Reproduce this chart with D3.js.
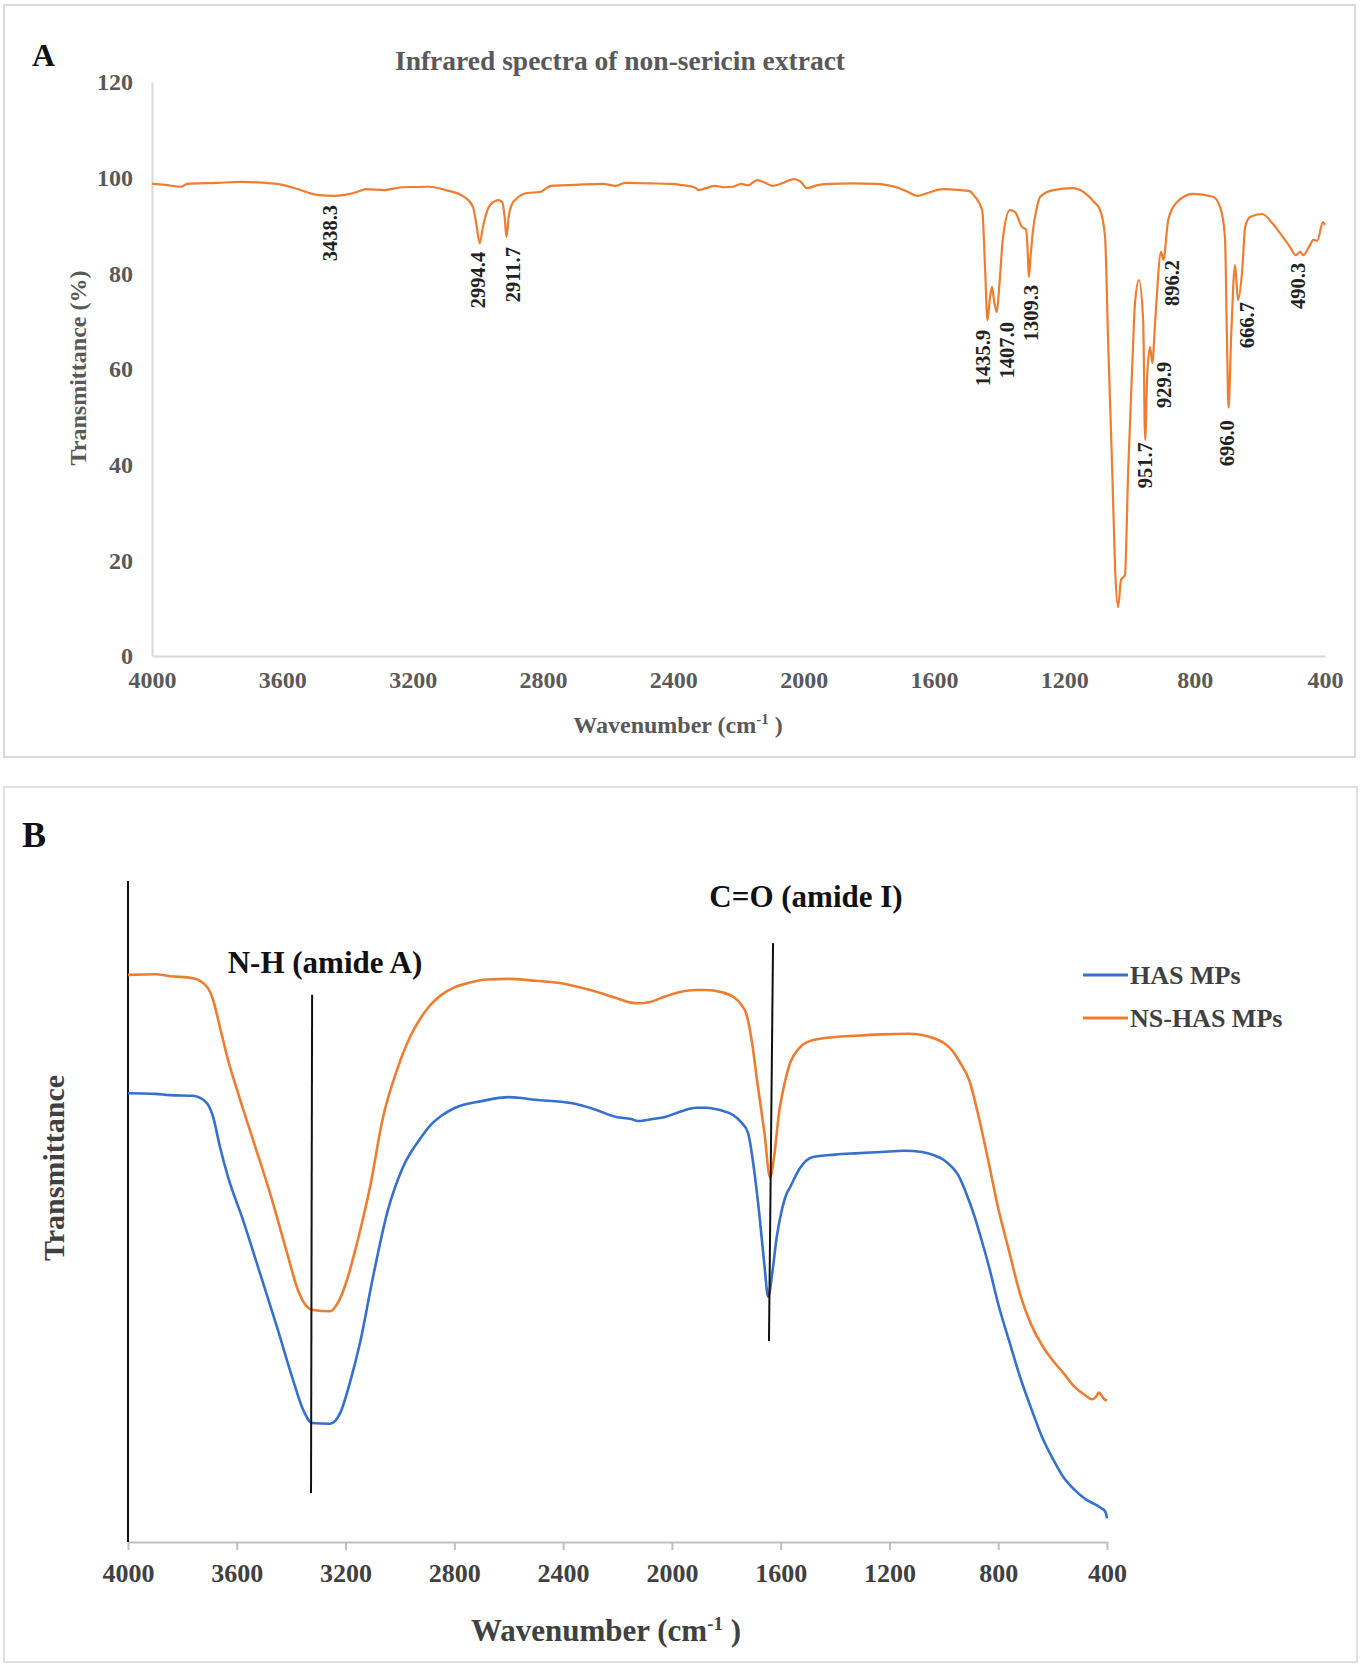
<!DOCTYPE html>
<html><head><meta charset="utf-8">
<script src="https://cdn.jsdelivr.net/npm/d3@7"></script>
<style>
body{margin:0;background:#fff}
svg{display:block}
text{font-family:"Liberation Serif","Times New Roman",serif;font-weight:bold}
</style>
</head><body>
<svg id="c" width="1364" height="1668"></svg>
<script>
// ---------- Panel A data: non-sericin extract ----------
const specA_wn = [4000,3960,3911,3892,3800,3727,3616,3561,3494,3438,3400,3371,3343,3288,3233,3150,3098,3042,3015,3005,2994,2985,2966,2950,2938,2925,2918,2912,2905,2895,2883,2849,2809,2790,2775,2700,2616,2576,2548,2470,2410,2379,2330,2324,2300,2272,2245,2217,2192,2170,2143,2120,2097,2060,2030,2010,1990,1960,1922,1850,1775,1740,1707,1680,1652,1620,1572,1520,1492,1474,1452,1443,1436,1428,1422,1415,1407,1400,1388,1367,1351,1330,1317,1312,1309,1303,1296,1285,1274,1234,1173,1130,1110,1090,1075,1066,1053,1044,1035,1026,1014,1004,992,983,971,958,952,946,937,930,921,903,896,881,854,805,744,722,707,701,696,688,676,667,654,645,630,593,562,538,507,490,476,467,446,436,424,406,400];
const specA_T  = [98.7,98.5,98.1,98.7,98.9,99.1,98.7,97.8,96.4,96.2,96.5,97.0,97.6,97.4,98.0,98.1,97.4,96.0,93.9,90.5,86.3,89.5,93.9,95.0,95.3,94.9,92.0,87.6,92.0,94.5,95.5,96.8,97.0,97.8,98.3,98.5,98.7,98.3,98.9,98.8,98.7,98.5,97.8,97.4,97.8,98.3,98.0,98.1,98.7,98.4,99.5,99.0,98.3,99.0,99.7,99.2,97.8,98.4,98.7,98.8,98.7,98.4,97.8,97.0,96.2,96.8,97.6,97.4,97.2,96.0,93.2,80.7,70.2,75.0,77.1,74.0,71.9,77.0,87.6,93.2,92.8,89.7,89.1,84.0,79.2,84.0,89.1,93.5,96.0,97.4,97.8,96.4,95.0,93.2,87.6,66.7,38.9,18.0,10.2,15.9,16.9,38.9,59.8,73.8,78.6,70.0,45.2,58.0,64.6,61.3,70.2,84.5,82.8,91.2,94.9,96.6,96.0,93.9,87.6,66.7,51.9,66.7,81.7,74.4,80.7,89.7,91.8,92.4,90.5,88.4,85.5,83.8,84.5,83.8,85.9,87.0,86.8,90.7,90.1];
const peakLabels  = ["3438.3","2994.4","2911.7","1435.9","1407.0","1309.3","951.7","929.9","896.2","696.0","666.7","490.3"];
const peakLabelWn = [3454,3000,2892,1449,1376,1302,952,894,869,700,639,483];
const peakLabelT  = [94.3,84.5,85.5,68.2,69.8,77.6,44.7,61.5,82.8,49.3,74.0,82.2];
const ticksA_y = [0,20,40,60,80,100,120];
const ticksA_x = [4000,3600,3200,2800,2400,2000,1600,1200,800,400];

// ---------- Panel B data ----------
const nsWn = [4000,3900,3846,3761,3710,3687,3662,3632,3599,3540,3478,3415,3375,3342,3320,3257,3228,3195,3158,3110,3062,3011,2963,2925,2889,2850,2800,2746,2680,2599,2500,2419,2300,2205,2150,2124,2080,2040,1970,1911,1874,1820,1775,1745,1727,1705,1687,1660,1639,1625,1606,1585,1565,1530,1484,1400,1326,1230,1131,1080,1036,1000,970,940,907,870,833,800,760,716,680,635,600,557,520,480,455,440,430,421,410,400];
const nsT  = [85.8,85.9,85.6,85.3,84.0,82.0,77.9,72.9,68.4,60.8,52.8,43.7,38.1,35.6,35.1,34.9,36.2,39.6,45.2,53.7,64.3,71.4,76.4,79.2,81.2,82.7,83.9,84.6,85.1,85.2,84.9,84.6,83.5,82.3,81.6,81.5,81.7,82.3,83.2,83.5,83.5,83.2,82.5,81.3,80.0,75.5,69.9,62.0,55.2,58.0,64.9,69.5,72.5,74.8,75.9,76.4,76.6,76.8,76.9,76.7,76.2,75.5,74.4,72.5,69.9,64.0,57.0,50.5,44.0,37.0,33.0,29.5,27.5,25.4,23.5,22.2,21.6,22.0,22.6,22.2,21.6,21.4];
const hasWn = [4000,3900,3846,3761,3710,3687,3662,3632,3577,3515,3452,3393,3356,3323,3257,3220,3184,3147,3099,3047,2989,2926,2889,2850,2797,2700,2599,2500,2371,2280,2205,2150,2124,2070,2025,1970,1911,1874,1820,1775,1745,1720,1700,1679,1660,1646,1630,1615,1598,1580,1565,1530,1484,1400,1326,1230,1146,1080,1036,1000,970,947,920,889,860,833,800,753,720,675,640,598,560,517,480,440,421,410,403,400];
const hasT  = [67.9,67.8,67.6,67.5,66.4,64.3,59.8,55.2,48.7,40.7,32.5,24.5,20.0,18.0,17.9,19.5,24.1,30.1,40.1,49.8,56.7,61.0,63.0,64.4,65.7,66.7,67.3,66.9,66.4,65.4,64.3,64.0,63.7,64.0,64.3,65.1,65.7,65.7,65.3,64.6,63.5,61.9,57.0,49.8,42.0,37.1,41.0,46.0,49.8,52.5,53.7,56.5,58.2,58.6,58.8,59.0,59.2,59.0,58.5,57.8,56.7,55.5,53.0,49.5,45.5,41.5,36.0,29.5,25.0,19.8,16.0,12.5,9.8,7.8,6.5,5.6,5.1,4.8,4.2,3.6];
const seriesNames = ["HAS MPs","NS-HAS MPs"];
const bandLabels = ["N-H (amide A)","C=O (amide I)"];
const bandLineWn = [[3323,3327],[1628,1643]];
const bandLineT  = [[82.8,7.4],[90.6,30.4]];
const ticksB_x = [4000,3600,3200,2800,2400,2000,1600,1200,800,400];

const ORANGE = "#ED7D31", BLUE = "#3470CC";
const svg = d3.select("#c");

// ================= PANEL A =================
svg.append("rect").attr("x",4).attr("y",5).attr("width",1351).attr("height",752)
  .attr("fill","none").attr("stroke","#d9d9d9").attr("stroke-width",2);
const xA = d3.scaleLinear().domain([4000,400]).range([152,1325]);
const yA = d3.scaleLinear().domain([0,120]).range([656,82]);

svg.append("text").attr("x",32).attr("y",66).attr("font-size",32).attr("fill","#111").text("A");
svg.append("text").attr("x",620).attr("y",70).attr("text-anchor","middle").attr("font-size",27.5)
  .attr("fill","#595959").text("Infrared spectra of non-sericin extract");

const gyA = svg.append("g").attr("transform","translate(152,0)")
  .call(d3.axisLeft(yA).tickValues(ticksA_y).tickSize(0).tickPadding(19).tickSizeOuter(0));
const gxA = svg.append("g").attr("transform","translate(0,656)")
  .call(d3.axisBottom(xA).tickValues(ticksA_x).tickSize(0).tickPadding(15).tickSizeOuter(0).tickFormat(d3.format("d")));
[gyA,gxA].forEach(g=>{
  g.select(".domain").attr("stroke","#d9d9d9").attr("stroke-width",2);
  g.selectAll("text").attr("font-size",24).attr("fill","#595959")
   .attr("font-family","'Liberation Serif',serif").attr("font-weight","bold");
});
svg.append("text").attr("transform","translate(78,368) rotate(-90)").attr("dy","0.35em")
  .attr("text-anchor","middle").attr("font-size",24).attr("fill","#595959").text("Transmittance (%)");
const xtA = svg.append("text").attr("x",678).attr("y",733).attr("text-anchor","middle")
  .attr("font-size",24).attr("fill","#595959");
xtA.append("tspan").text("Wavenumber (cm");
xtA.append("tspan").attr("dy",-9).attr("font-size",15).text("-1");
xtA.append("tspan").attr("dy",9).text(" )");

const lineA = d3.line().x((d,i)=>xA(specA_wn[i])).y((d,i)=>yA(specA_T[i])).curve(d3.curveMonotoneX);
svg.append("path").datum(specA_T).attr("d",lineA).attr("fill","none")
  .attr("stroke",ORANGE).attr("stroke-width",2.2).attr("stroke-linejoin","round");

svg.append("g").selectAll("text").data(peakLabels).join("text")
  .attr("transform",(d,i)=>`translate(${xA(peakLabelWn[i])},${yA(peakLabelT[i])}) rotate(-90)`)
  .attr("dy","0.35em").attr("text-anchor","end").attr("font-size",20.5).attr("fill","#222")
  .text(d=>d);

// ================= PANEL B =================
svg.append("rect").attr("x",4).attr("y",787).attr("width",1353).attr("height",875)
  .attr("fill","none").attr("stroke","#e0e0e0").attr("stroke-width",2);
const xB = d3.scaleLinear().domain([4000,400]).range([128,1107]);
const yB = d3.scaleLinear().domain([0,100]).range([1542,881]);

svg.append("text").attr("x",22).attr("y",847).attr("font-size",36).attr("fill","#111").text("B");

const gxB = svg.append("g").attr("transform","translate(0,1542)")
  .call(d3.axisBottom(xB).tickValues(ticksB_x).tickSize(8).tickPadding(14).tickSizeOuter(0).tickFormat(d3.format("d")));
gxB.select(".domain").attr("stroke","#bfbfbf").attr("stroke-width",2);
gxB.selectAll(".tick line").attr("stroke","#bfbfbf").attr("stroke-width",2);
gxB.selectAll("text").attr("font-size",26).attr("fill","#404040")
  .attr("font-family","'Liberation Serif',serif").attr("font-weight","bold");
svg.append("line").attr("x1",xB(4000)).attr("x2",xB(4000)).attr("y1",yB(100)).attr("y2",yB(0))
  .attr("stroke","#111").attr("stroke-width",2);

svg.append("text").attr("transform","translate(53,1168) rotate(-90)").attr("dy","0.35em")
  .attr("text-anchor","middle").attr("font-size",30).attr("fill","#404040").text("Transmittance");
const xtB = svg.append("text").attr("x",606).attr("y",1641).attr("text-anchor","middle")
  .attr("font-size",31).attr("fill","#404040");
xtB.append("tspan").text("Wavenumber (cm");
xtB.append("tspan").attr("dy",-11).attr("font-size",19).text("-1");
xtB.append("tspan").attr("dy",11).text(" )");

const mkLine = (wn,t)=>d3.line().x((d,i)=>xB(wn[i])).y((d,i)=>yB(t[i])).curve(d3.curveMonotoneX);
svg.append("path").datum(hasT).attr("d",mkLine(hasWn,hasT)).attr("fill","none")
  .attr("stroke",BLUE).attr("stroke-width",2.6).attr("stroke-linejoin","round");
svg.append("path").datum(nsT).attr("d",mkLine(nsWn,nsT)).attr("fill","none")
  .attr("stroke",ORANGE).attr("stroke-width",2.6).attr("stroke-linejoin","round");

// band marker lines + labels
bandLineWn.forEach((w,i)=>{
  svg.append("line").attr("x1",xB(w[0])).attr("y1",yB(bandLineT[i][0]))
    .attr("x2",xB(w[1])).attr("y2",yB(bandLineT[i][1]))
    .attr("stroke","#111").attr("stroke-width",2);
});
svg.append("text").attr("x",325).attr("y",973).attr("text-anchor","middle").attr("font-size",31)
  .attr("fill","#111").text(bandLabels[0]);
svg.append("text").attr("x",806).attr("y",907).attr("text-anchor","middle").attr("font-size",31)
  .attr("fill","#111").text(bandLabels[1]);

// legend
const legColors = [BLUE, ORANGE];
const leg = svg.append("g").selectAll("g").data(seriesNames).join("g")
  .attr("transform",(d,i)=>`translate(1083,${975+i*43})`);
leg.append("line").attr("x1",0).attr("x2",45).attr("y1",0).attr("y2",0)
  .attr("stroke",(d,i)=>legColors[i]).attr("stroke-width",3);
leg.append("text").attr("x",47).attr("dy","0.35em").attr("font-size",26).attr("fill","#404040").text(d=>d);
</script>
</body></html>
